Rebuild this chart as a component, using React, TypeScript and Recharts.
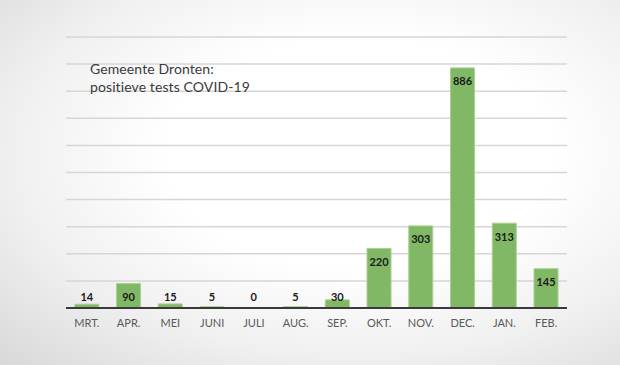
import { BarChart, Bar, XAxis, YAxis, CartesianGrid, LabelList } from "recharts";

const MONTHS = ["MRT.", "APR.", "MEI", "JUNI", "JULI", "AUG.", "SEP.", "OKT.", "NOV.", "DEC.", "JAN.", "FEB."];
const POSITIVE = [14, 90, 15, 5, 0, 5, 30, 220, 303, 886, 313, 145];
const Y_TICKS = [0, 100, 200, 300, 400, 500, 600, 700, 800, 900, 1000];

const data = MONTHS.map((m, i) => ({ month: m, value: POSITIVE[i] }));

const FONT = "Lato, 'Open Sans', sans-serif";

// label sits inside the top of the bar, but never lower than just above the base
function ValueLabel(props: any) {
  const { x, y, width, height, value } = props;
  const base = y + height;
  const cy = Math.min(y + 13, base - 12);
  return (
    <text
      x={x + width / 2}
      y={cy}
      textAnchor="middle"
      dominantBaseline="central"
      fill="#1a1a1a"
      fontSize={11}
      fontWeight={700}
      fontFamily={FONT}
    >
      {value}
    </text>
  );
}

export default function App() {
  return (
    <div
      style={{
        position: "absolute",
        top: 0,
        left: 0,
        width: 620,
        height: 365,
        background: "radial-gradient(ellipse at 58% 42%, #ffffff 38%, #f0f0f0 68%, #d8d8d8 100%)",
        overflow: "hidden",
      }}
    >
      <BarChart
        width={620}
        height={365}
        data={data}
        margin={{ top: 37, right: 53, bottom: 27, left: 66 }}
        barCategoryGap="21%"
      >
        <CartesianGrid vertical={false} stroke="#d6d6d6" strokeWidth={1.5} />
        <YAxis hide domain={[0, 1000]} ticks={Y_TICKS} />
        <Bar
          dataKey="value"
          fill="#80b865"
          stroke="#a9d18e"
          strokeWidth={1}
          minPointSize={(v: number) => (v === 0 ? 0.01 : 0)}
          isAnimationActive={false}
        >
          <LabelList dataKey="value" content={ValueLabel} />
        </Bar>
        <XAxis
          dataKey="month"
          height={30}
          tickLine={false}
          axisLine={{ stroke: "#3a3a3a", strokeWidth: 2 }}
          tick={{ fill: "#595959", fontSize: 11, fontFamily: FONT }}
          tickMargin={5}
          interval={0}
        />
      </BarChart>
      <div
        style={{
          position: "absolute",
          left: 90,
          top: 60,
          fontFamily: FONT,
          fontSize: 14,
          lineHeight: "18px",
          color: "#3a3a3a",
          letterSpacing: 0.1,
        }}
      >
        Gemeente Dronten:
        <br />
        positieve tests COVID-19
      </div>
    </div>
  );
}
